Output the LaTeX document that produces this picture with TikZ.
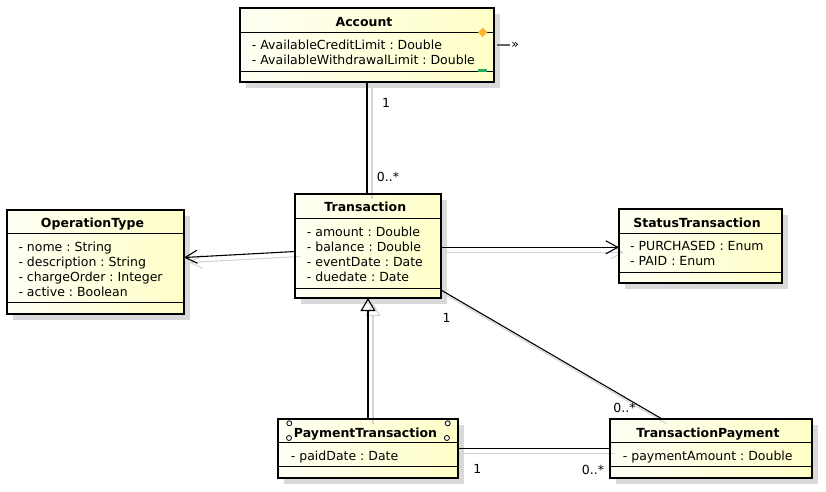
\documentclass[tikz,border=0pt]{standalone}
\usepackage{fontspec}
\setmainfont{DejaVu Sans}
\usetikzlibrary{arrows.meta}
\frenchspacing
\pgfdeclarelayer{bg}
\pgfsetlayers{bg,main}
\definecolor{fillA}{RGB}{255,255,244}
\definecolor{fillB}{RGB}{255,255,200}
\definecolor{shadowgray}{RGB}{217,217,217}
\definecolor{lineshadow}{RGB}{212,212,212}
\definecolor{diamondorange}{RGB}{255,178,50}
\definecolor{markgreen}{RGB}{40,170,90}
\definecolor{darkarrow}{RGB}{100,100,100}
\begin{document}
\begin{tikzpicture}[x=1pt,y=-1pt,
  font=\fontsize{12.5}{15}\selectfont\frenchspacing,
  classbox/.style={rectangle, inner sep=0pt, outer sep=0pt, anchor=north west, left color=fillA, right color=fillB, draw=none},
  border/.style={draw=black, line width=2.4pt},
  boxshadow/.style={fill=shadowgray},
  ttl/.style={anchor=base, inner sep=0pt, font=\fontsize{12.5}{15}\selectfont\bfseries},
  attr/.style={anchor=base west, inner sep=0pt},
  sepline/.style={line width=1pt},
  conn/.style={line width=1.1pt},
  cshadow/.style={line width=1.1pt, draw=lineshadow, transform canvas={shift={(5,5)}}},
  mult/.style={inner sep=0pt},
  navarrow/.style={-{Straight Barb[length=12pt,width=13pt]}},
  genarrow/.style={-{Triangle[open,length=13pt,width=15pt]}},
  corner/.style={line width=0.8pt, fill=white}
]
\useasboundingbox (0,0) rectangle (826,491);

% class frames
\node[classbox, minimum width=254pt, minimum height=74pt] (acc) at (240,8) {};
\node[classbox, minimum width=146pt, minimum height=104pt] (tr) at (295,194) {};
\node[classbox, minimum width=177pt, minimum height=104pt] (ot) at (7,210) {};
\node[classbox, minimum width=163pt, minimum height=74pt] (st) at (619,209) {};
\node[classbox, minimum width=180pt, minimum height=59pt] (pt) at (278,419) {};
\node[classbox, minimum width=202pt, minimum height=59pt] (tp) at (610,419) {};

\begin{pgfonlayer}{bg}
\foreach \n in {acc,tr,ot,st,pt,tp}
  \fill[boxshadow] ([shift={(6pt,-6pt)}]\n.north west) rectangle ([shift={(6pt,-6pt)}]\n.south east);
\end{pgfonlayer}

% compartment lines
\draw[sepline] (acc.west |- 0,32) -- (acc.east |- 0,32);
\draw[sepline] (acc.west |- 0,71) -- (acc.east |- 0,71);
\draw[sepline] (tr.west |- 0,218.7) -- (tr.east |- 0,218.7);
\draw[sepline] (tr.west |- 0,288) -- (tr.east |- 0,288);
\draw[sepline] (ot.west |- 0,233.3) -- (ot.east |- 0,233.3);
\draw[sepline] (ot.west |- 0,302.7) -- (ot.east |- 0,302.7);
\draw[sepline] (st.west |- 0,233.3) -- (st.east |- 0,233.3);
\draw[sepline] (st.west |- 0,272.3) -- (st.east |- 0,272.3);
\draw[sepline] (pt.west |- 0,442.7) -- (pt.east |- 0,442.7);
\draw[sepline] (pt.west |- 0,466.7) -- (pt.east |- 0,466.7);
\draw[sepline] (tp.west |- 0,442.7) -- (tp.east |- 0,442.7);
\draw[sepline] (tp.west |- 0,466.7) -- (tp.east |- 0,466.7);

% texts
\node[ttl] (accT) at (364,26) {Account};
\node[attr] (accA1) at (251.7,49) {- AvailableCreditLimit : Double};
\node[attr] (accA2) at (251.7,64.3) {- AvailableWithdrawalLimit : Double};

\node[ttl] (trT) at (365.3,211.7) {Transaction};
\node[attr] (trA1) at (306.7,236) {- amount : Double};
\node[attr] (trA2) at (306.7,251) {- balance : Double};
\node[attr] (trA3) at (306.7,266) {- eventDate : Date};
\node[attr] (trA4) at (306.7,281) {- duedate : Date};

\node[ttl] (otT) at (92.5,227.7) {OperationType};
\node[attr] (otA1) at (18.3,251.7) {- nome : String};
\node[attr] (otA2) at (18.3,266.7) {- description : String};
\node[attr] (otA3) at (18.3,281.7) {- chargeOrder : Integer};
\node[attr] (otA4) at (18.3,296.5) {- active : Boolean};

\node[ttl] (stT) at (697,227.3) {StatusTransaction};
\node[attr] (stA1) at (630,250.7) {- PURCHASED : Enum};
\node[attr] (stA2) at (630,265.7) {- PAID : Enum};

\node[ttl] (ptT) at (365.5,437.3) {PaymentTransaction};
\node[attr] (ptA1) at (290.7,460) {- paidDate : Date};

\node[ttl] (tpT) at (708,437.3) {TransactionPayment};
\node[attr] (tpA1) at (622.7,460) {- paymentAmount : Double};

% connector shadows
\draw[cshadow] (acc.south) -- (acc.south |- tr.north);
\draw[cshadow, navarrow] ([yshift=-5.5pt]tr.west) -- ([yshift=4.5pt]ot.east);
\draw[cshadow, navarrow] ([yshift=-1.3pt]tr.east) -- ([yshift=-1.3pt]st.west);
\draw[cshadow, genarrow] (pt.north) -- (pt.north |- tr.south);
\draw[cshadow] ([yshift=8pt]tr.south east) -- ([xshift=52pt]tp.north west);
\draw[cshadow] (pt.east) -- (tp.west);

% connectors
\draw[conn] (acc.south) -- (acc.south |- tr.north);
\draw[conn, navarrow] ([yshift=-5.5pt]tr.west) -- ([yshift=4.5pt]ot.east);
\draw[conn, navarrow] ([yshift=-1.3pt]tr.east) -- ([yshift=-1.3pt]st.west);
\draw[conn, genarrow] (pt.north) -- (pt.north |- tr.south);
\draw[conn] ([yshift=8pt]tr.south east) -- ([xshift=52pt]tp.north west);
\draw[conn] (pt.east) -- (tp.west);

% borders
\foreach \n in {acc,tr,ot,st,pt,tp}
  \draw[border] (\n.north west) rectangle (\n.south east);

% small marks
\fill[diamondorange] (482.7,27.6) -- (487.4,32.3) -- (482.7,37) -- (478,32.3) -- cycle;
\fill[markgreen] (478.3,69) rectangle (486.7,72.2);
\coordinate (moreStart) at (497,45);
\node[inner sep=0pt, text=black, font=\fontsize{12.5}{12.5}\selectfont] (more) at (515.2,45.4) {»};
\draw[darkarrow, line width=1.3pt] (moreStart) -- ([xshift=-1pt]moreStart -| more.west);

\draw[corner] (289.3,423.3) circle[radius=2.5pt];
\draw[corner] (289,438) circle[radius=2.5pt];
\draw[corner] (447.7,423.3) circle[radius=2.5pt];
\draw[corner] (446.9,438) circle[radius=2.5pt];

% multiplicities
\node[mult] (m1) at (386,103) {1};
\node[mult] (m2) at (388,177) {0..*};
\node[mult] (m3) at (446.7,318) {1};
\node[mult] (m4) at (624.5,408.3) {0..*};
\node[mult] (m5) at (477.3,469.3) {1};
\node[mult] (m6) at (593,470) {0..*};
\end{tikzpicture}
\end{document}
